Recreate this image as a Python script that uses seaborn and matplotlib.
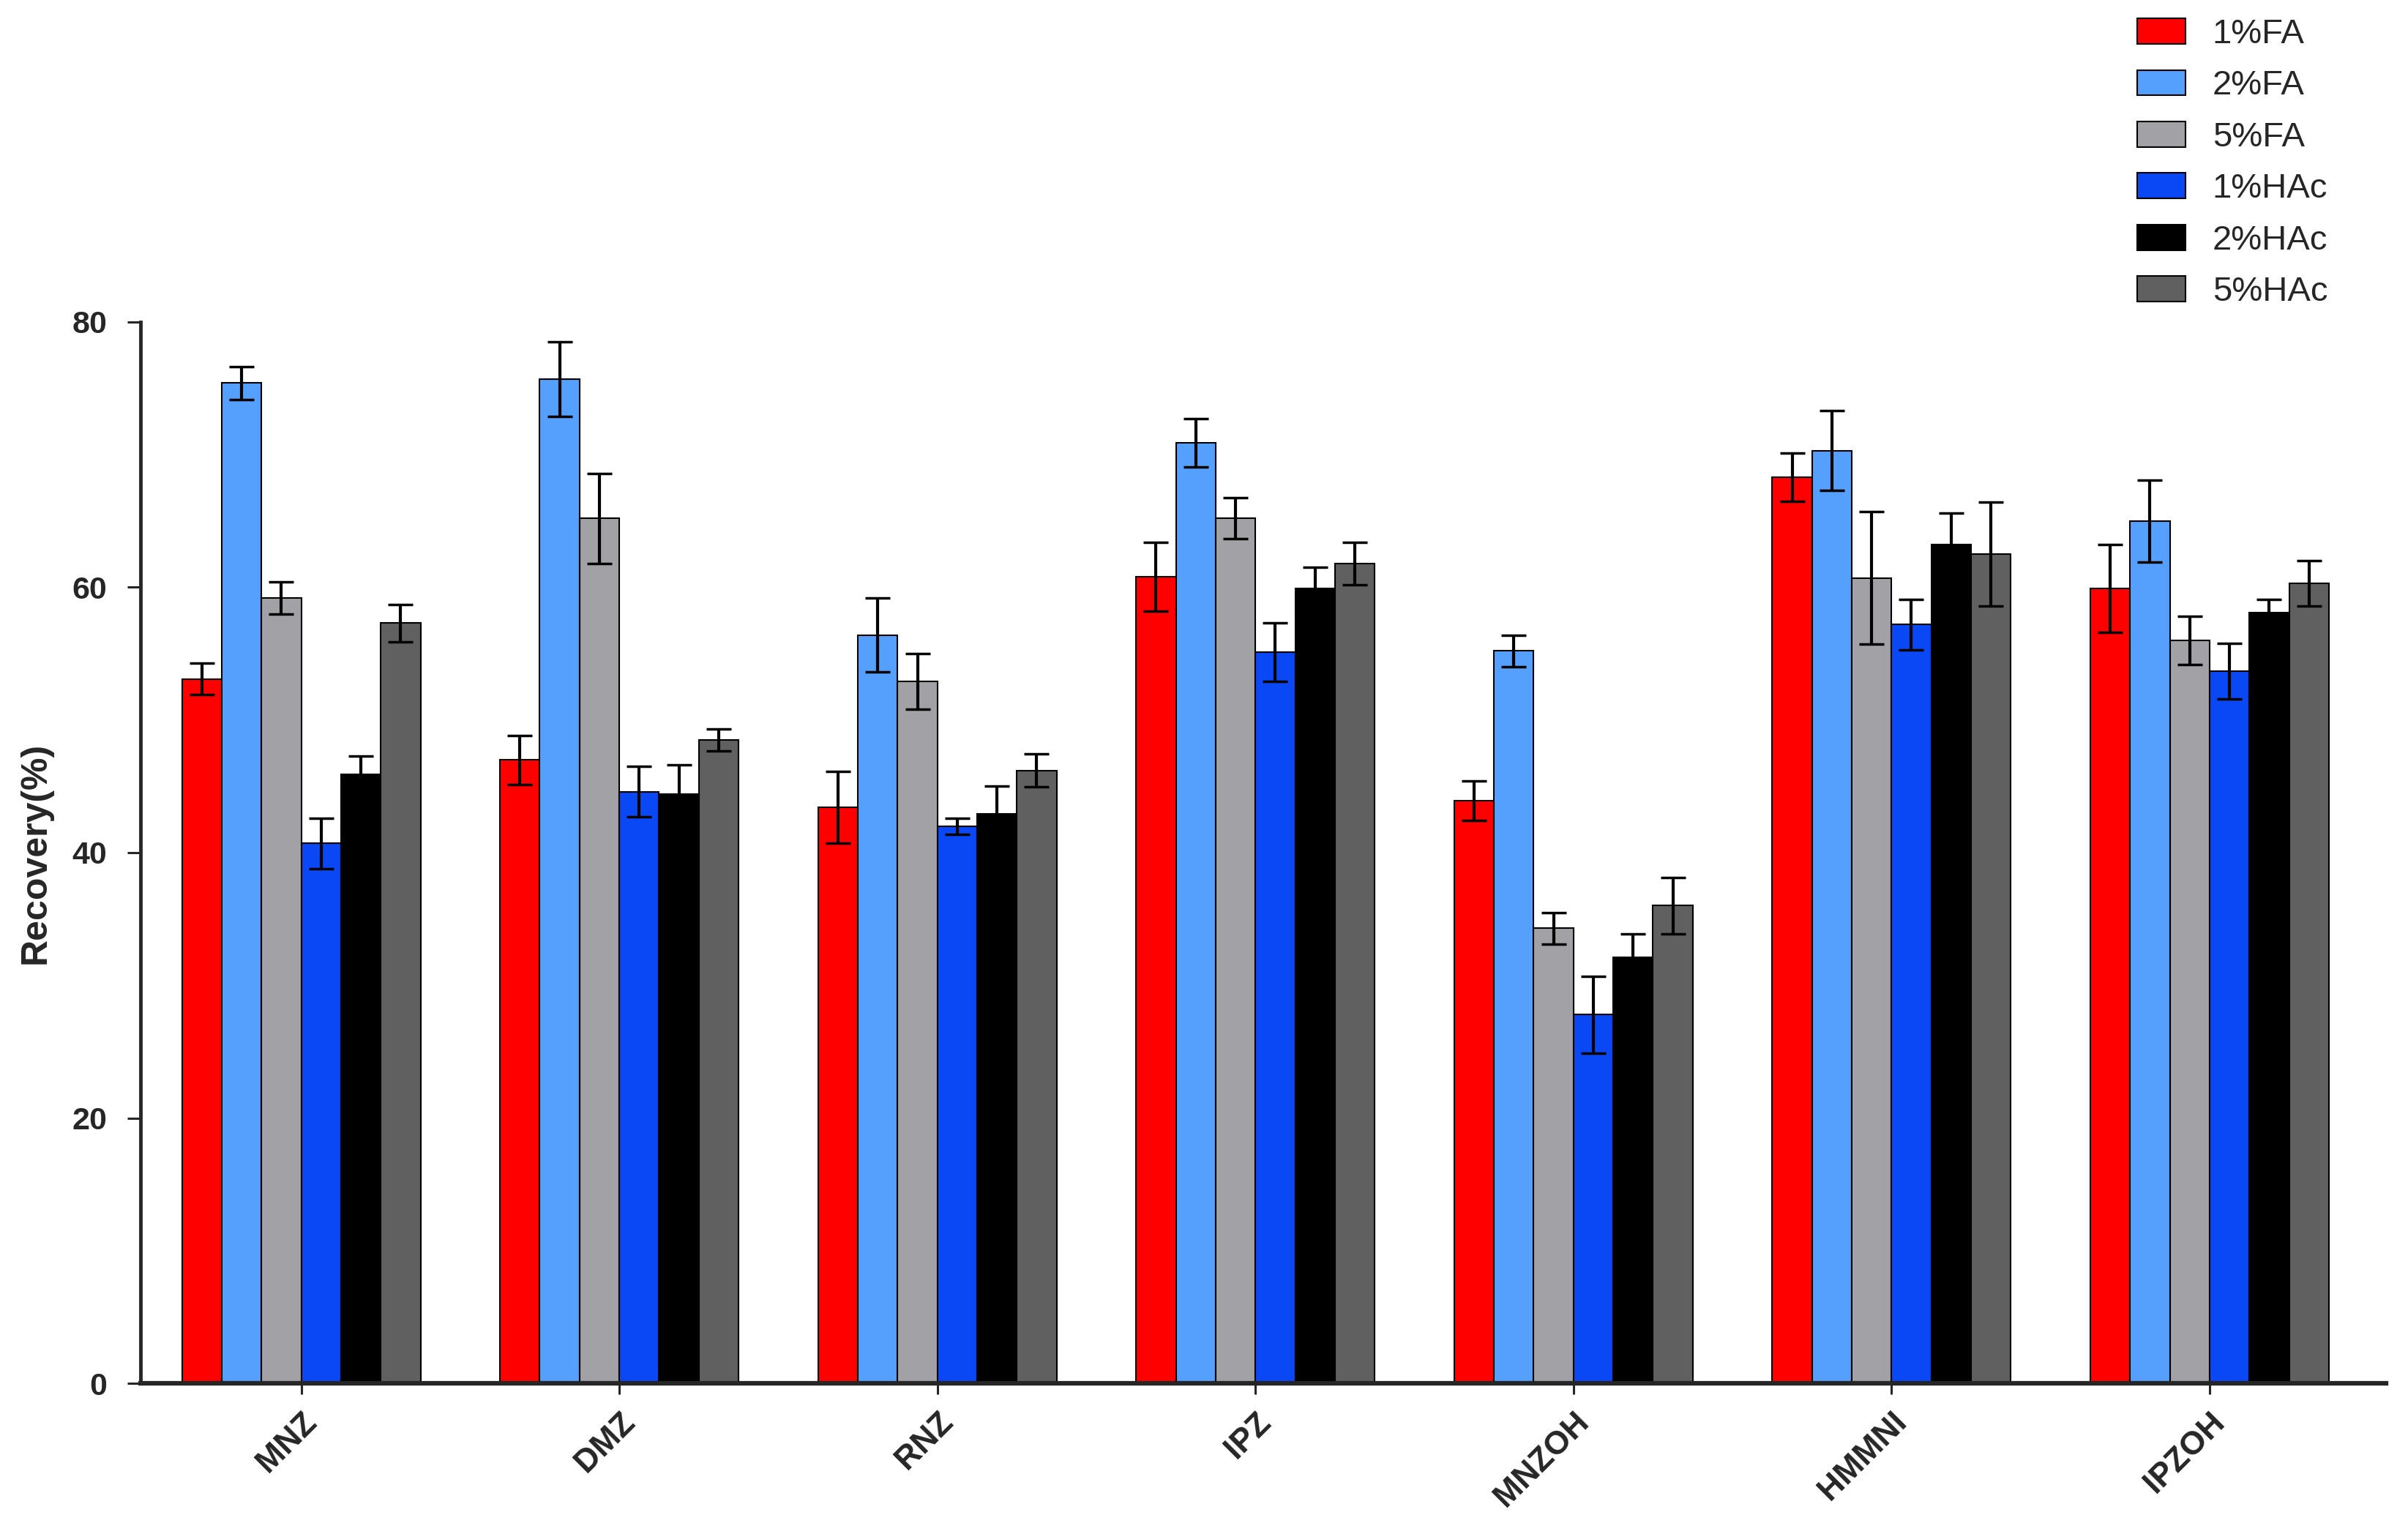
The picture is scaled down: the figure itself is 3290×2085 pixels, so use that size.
import matplotlib.pyplot as plt
import matplotlib.patches as mpatches
import seaborn as sns
import numpy as np
import pandas as pd

# Données : récupération (%) par composé et par solvant
compounds = ['MNZ', 'DMZ', 'RNZ', 'IPZ', 'MNZOH', 'HMMNI', 'IPZOH']
solvents = ['1%FA', '2%FA', '5%FA', '1%HAc', '2%HAc', '5%HAc']

fa1 = [53.1, 47.0, 43.4, 60.8, 43.9, 68.3, 59.9]
fa1_err = [1.2, 1.85, 2.7, 2.6, 1.5, 1.8, 3.3]
fa2 = [75.4, 75.7, 56.4, 70.9, 55.2, 70.3, 65.0]
fa2_err = [1.25, 2.8, 2.8, 1.8, 1.2, 3.0, 3.1]
fa5 = [59.2, 65.2, 52.9, 65.2, 34.3, 60.7, 56.0]
fa5_err = [1.2, 3.4, 2.1, 1.55, 1.2, 5.0, 1.8]
hac1 = [40.7, 44.6, 42.0, 55.1, 27.8, 57.2, 53.7]
hac1_err = [1.9, 1.9, 0.6, 2.2, 2.9, 1.9, 2.1]
hac2 = [45.9, 44.4, 42.9, 59.9, 32.1, 63.2, 58.1]
hac2_err = [1.4, 2.2, 2.1, 1.6, 1.75, 2.4, 1.0]
hac5 = [57.3, 48.5, 46.2, 61.8, 36.0, 62.5, 60.3]
hac5_err = [1.4, 0.85, 1.25, 1.6, 2.1, 3.9, 1.7]

colors = ['#FF0000', '#559FFD', '#A2A2A6', '#0A47F5', '#000000', '#606060']

values = [fa1, fa2, fa5, hac1, hac2, hac5]
errors = [fa1_err, fa2_err, fa5_err, hac1_err, hac2_err, hac5_err]

rows = []
for s, vals in zip(solvents, values):
    for c, v in zip(compounds, vals):
        rows.append({'compound': c, 'solvent': s, 'recovery': v})
df = pd.DataFrame(rows)

sns.set_style('ticks')
plt.rcParams['font.family'] = ['Liberation Sans', 'DejaVu Sans']

fig = plt.figure(figsize=(32.9, 20.85), dpi=100)
ax = fig.add_axes([0.0584, 0.0935, 0.9325, 0.6955])

sns.barplot(data=df, x='compound', y='recovery', hue='solvent',
            order=compounds, hue_order=solvents, palette=colors,
            width=0.75, errorbar=None, saturation=1,
            edgecolor='black', linewidth=1.5, legend=False, ax=ax)

# Barres d'erreur
for cont, errs in zip(ax.containers, errors):
    for bar, e in zip(cont, errs):
        x = bar.get_x() + bar.get_width() / 2
        ax.errorbar(x, bar.get_height(), yerr=e, fmt='none', ecolor='black',
                    elinewidth=3, capsize=12, capthick=2.5, zorder=5)

ax.set_xlim(-0.505, 6.555)
ax.set_ylim(0, 80)
ax.set_yticks([0, 20, 40, 60, 80])
ax.set_xlabel('')
ax.set_ylabel('Recovery(%)', fontsize=36, fontweight='bold',
              family=['Liberation Sans Narrow', 'Liberation Sans', 'DejaVu Sans'])
ax.yaxis.set_label_coords(-0.0394, 0.5)

sns.despine(ax=ax)
ax.spines['left'].set_linewidth(3.5)
ax.spines['bottom'].set_linewidth(4.5)
ax.tick_params(axis='y', length=13, width=2.2, pad=20, labelsize=31)
ax.tick_params(axis='x', length=11, width=2.2, pad=12, labelsize=32)
for lab in ax.get_yticklabels():
    lab.set_fontweight('bold')
plt.setp(ax.get_xticklabels(), rotation=45, ha='right', va='top',
         rotation_mode='anchor', fontweight='bold')

# Légende
handles = [mpatches.Patch(facecolor=c, edgecolor='black', linewidth=1.5) for c in colors]
fig.legend(handles, solvents, loc='upper left', bbox_to_anchor=(0.8875, 0.988),
           frameon=False, fontsize=34, borderpad=0, borderaxespad=0,
           handlelength=1.4, handleheight=0.76, labelspacing=0.56,
           handletextpad=0.78)

plt.savefig('out.png', dpi=100)
